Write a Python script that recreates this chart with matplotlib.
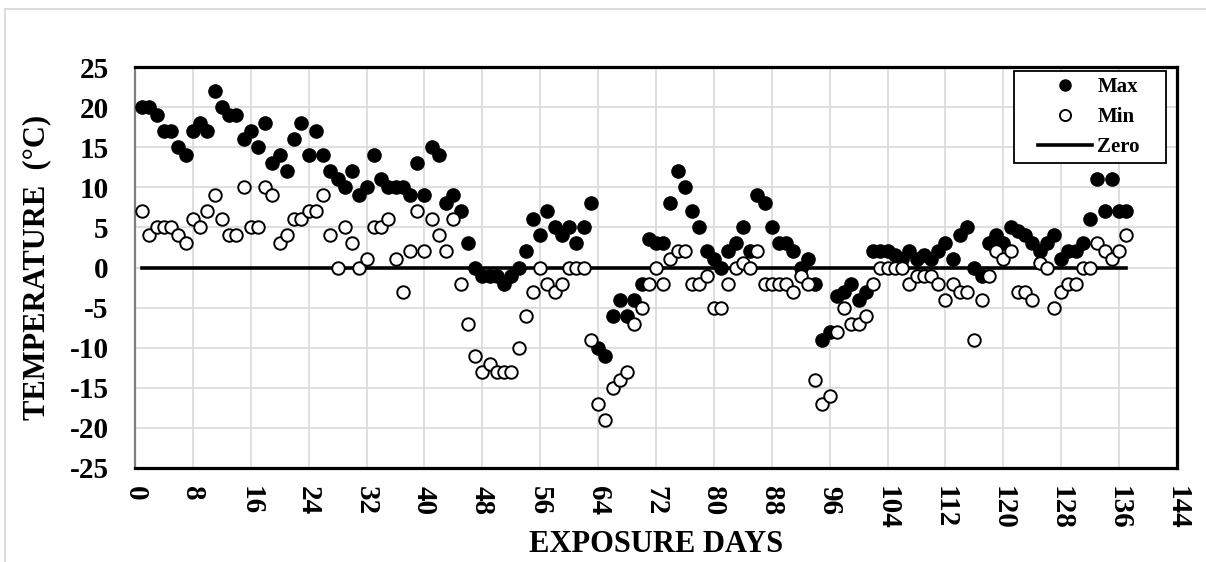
import numpy as np
import matplotlib
matplotlib.use('Agg')
import matplotlib.pyplot as plt
from matplotlib.patches import Rectangle
from matplotlib.lines import Line2D

plt.rcParams['font.family'] = ['Liberation Serif', 'DejaVu Serif']
plt.rcParams['font.weight'] = 'bold'

days = np.arange(1, 138)

t_max = [20, 20, 19, 17, 17, 15, 14, 17, 18, 17,
         22, 20, 19, 19, 16, 17, 15, 18, 13, 14,
         12, 16, 18, 14, 17, 14, 12, 11, 10, 12,
         9, 10, 14, 11, 10, 10, 10, 9, 13, 9,
         15, 14, 8, 9, 7, 3, 0, -1, -1, -1,
         -2, -1, 0, 2, 6, 4, 7, 5, 4, 5,
         3, 5, 8, -10, -11, -6, -4, -6, -4, -2,
         3.5, 3, 3, 8, 12, 10, 7, 5, 2, 1,
         0, 2, 3, 5, 2, 9, 8, 5, 3, 3,
         2, 0, 1, -2, -9, -8, -3.5, -3, -2, -4,
         -3, 2, 2, 2, 1.5, 1, 2, 1, 1.5, 1,
         2, 3, 1, 4, 5, 0, -1, 3, 4, 3,
         5, 4.5, 4, 3, 2, 3, 4, 1, 2, 2,
         3, 6, 11, 7, 11, 7, 7]

t_min = [7, 4, 5, 5, 5, 4, 3, 6, 5, 7,
         9, 6, 4, 4, 10, 5, 5, 10, 9, 3,
         4, 6, 6, 7, 7, 9, 4, 0, 5, 3,
         0, 1, 5, 5, 6, 1, -3, 2, 7, 2,
         6, 4, 2, 6, -2, -7, -11, -13, -12, -13,
         -13, -13, -10, -6, -3, 0, -2, -3, -2, 0,
         0, 0, -9, -17, -19, -15, -14, -13, -7, -5,
         -2, 0, -2, 1, 2, 2, -2, -2, -1, -5,
         -5, -2, 0, 0.5, 0, 2, -2, -2, -2, -2,
         -3, -1, -2, -14, -17, -16, -8, -5, -7, -7,
         -6, -2, 0, 0, 0, 0, -2, -1, -1, -1,
         -2, -4, -2, -3, -3, -9, -4, -1, 2, 1,
         2, -3, -3, -4, 0.5, 0, -5, -3, -2, -2,
         0, 0, 3, 2, 1, 2, 4]

zero = np.zeros(len(days))

W, H = 1206, 562
fig = plt.figure(figsize=(W / 100, H / 100), dpi=100)
ax = fig.add_axes([135 / W, 1 - 468 / H, 1042 / W, 401 / H])

# light chart border (only top and left are inside the picture)
fig.add_artist(Line2D([5 / W, 1], [1 - 9 / H, 1 - 9 / H], transform=fig.transFigure,
                      color='#d9d9d9', linewidth=1.3))
fig.add_artist(Line2D([5 / W, 5 / W], [0, 1 - 9 / H], transform=fig.transFigure,
                      color='#d9d9d9', linewidth=1.3))

ax.plot(days, t_max, 'o', color='black', markersize=9.5, label='Max', zorder=3)
ax.plot(days, t_min, 'o', markerfacecolor='white', markeredgecolor='black',
        markeredgewidth=1.4, markersize=9, label='Min', zorder=3)
ax.plot(days, zero, color='black', linewidth=2.6, label='Zero', zorder=2)

ax.set_xlim(0, 144)
ax.set_ylim(-25, 25)
ax.set_xticks(np.arange(0, 145, 8))
ax.set_yticks(np.arange(-25, 26, 5))
ax.set_xticklabels([str(v) for v in range(0, 145, 8)], rotation=-90, fontsize=21, fontweight='bold')
ax.set_yticklabels([str(v) for v in range(-25, 26, 5)], fontsize=21, fontweight='bold')
ax.tick_params(axis='y', length=0, pad=19)
ax.tick_params(axis='x', length=0, pad=13)
ax.grid(True, color='#d9d9d9', linewidth=1.2)
ax.set_axisbelow(True)

for side in ['top', 'right', 'bottom']:
    ax.spines[side].set_color('black')
    ax.spines[side].set_linewidth(2.3)
ax.spines['left'].set_color('#7f7f7f')
ax.spines['left'].set_linewidth(1.6)

fig.text(656 / W, 1 - 545 / H, 'EXPOSURE DAYS', fontsize=22, fontweight='bold',
         ha='center', va='center')
fig.text(37 / W, 1 - 267 / H, 'TEMPERATURE  (°C)', fontsize=22, fontweight='bold',
         ha='center', va='center', rotation=90)

# legend: frame drawn separately to match its padding
fig.add_artist(Rectangle((1014 / W, 1 - 163 / H), 152 / W, 92 / H, transform=fig.transFigure,
                         fill=True, facecolor='white', edgecolor='black', linewidth=1.3, zorder=4))
leg = fig.legend(*ax.get_legend_handles_labels(), loc='upper left',
                 bbox_to_anchor=(1038 / W, 1 - 77 / H), fontsize=15, frameon=False,
                 handlelength=2.6, borderpad=0, borderaxespad=0, labelspacing=0.48,
                 handletextpad=0.25)
leg.set_zorder(5)
for h in leg.legend_handles[:2]:
    h.set_markersize(8)

fig.savefig('out.png', dpi=100)
